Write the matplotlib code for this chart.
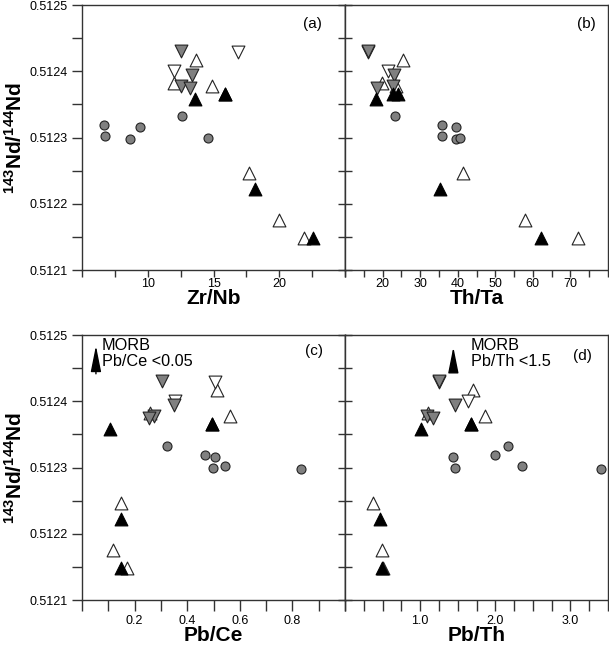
import matplotlib
matplotlib.use('Agg')
import matplotlib.pyplot as plt
from matplotlib.ticker import MultipleLocator, FixedLocator, FormatStrFormatter

plt.rcParams['font.family'] = ['Liberation Sans', 'DejaVu Sans']
plt.rcParams['mathtext.fontset'] = 'custom'
plt.rcParams['mathtext.rm'] = 'Liberation Sans'
plt.rcParams['mathtext.bf'] = 'Liberation Sans:bold'

# 143Nd/144Nd per sample group (same samples in every panel)
y_circle = [0.512319, 0.512303, 0.512297, 0.512316, 0.512333, 0.512299]
y_gray_down = [0.51243, 0.512394, 0.512377, 0.512375]
y_open_down = [0.5124, 0.512429]
y_open_up = [0.512417, 0.512383, 0.512377, 0.512247, 0.512175, 0.512149]
y_black_up = [0.512358, 0.512365, 0.512223, 0.512149, 0.512365]

# Zr/Nb
zrnb_circle = [6.70, 6.77, 8.62, 9.43, 12.6, 14.58]
zrnb_gray_down = [12.55, 13.36, 12.53, 13.24]
zrnb_open_down = [11.97, 16.86]
zrnb_open_up = [13.67, 11.97, 14.89, 17.73, 20.0, 21.9]
zrnb_black_up = [13.62, 15.85, 18.16, 22.6, 15.85]

# Th/Ta
thta_circle = [35.7, 35.7, 39.5, 39.5, 23.3, 40.7]
thta_gray_down = [16.2, 23.1, 22.8, 18.4]
thta_open_down = [21.5, 16.2]
thta_open_up = [25.4, 19.8, 23.5, 41.3, 57.9, 72.1]
thta_black_up = [18.3, 22.9, 35.3, 62.1, 24.2]

# Pb/Ce
pbce_circle = [0.469, 0.543, 0.833, 0.507, 0.323, 0.498]
pbce_gray_down = [0.304, 0.349, 0.272, 0.254]
pbce_open_down = [0.352, 0.504]
pbce_open_up = [0.513, 0.26, 0.561, 0.148, 0.118, 0.171]
pbce_black_up = [0.105, 0.494, 0.149, 0.149, 0.494]

# Pb/Th
pbth_circle = [1.996, 2.36, 3.41, 1.433, 2.17, 1.464]
pbth_gray_down = [1.255, 1.464, 1.087, 1.176]
pbth_open_down = [1.64, 1.255]
pbth_open_up = [1.70, 1.10, 1.863, 0.368, 0.488, 0.50]
pbth_black_up = [1.011, 1.673, 0.466, 0.488, 1.673]

GRAY = '#808080'
EDGE = '#222222'

fig = plt.figure(figsize=(6.09, 6.47), dpi=100)
W, H = 609.0, 647.0


def make_axes(x0, y0, x1, y1):
    return fig.add_axes([x0 / W, 1 - y1 / H, (x1 - x0) / W, (y1 - y0) / H])


ax_a = make_axes(82, 5, 345, 270)
ax_b = make_axes(345, 5, 608, 270)
ax_c = make_axes(82, 335, 345, 600)
ax_d = make_axes(345, 335, 608, 600)


def plot_points(ax, xc, xgd, xod, xou, xbu):
    ax.scatter(xou, y_open_up, marker='^', s=85, facecolor='white', edgecolor=EDGE, linewidth=0.8, zorder=3)
    ax.scatter(xod, y_open_down, marker='v', s=85, facecolor='white', edgecolor=EDGE, linewidth=0.8, zorder=3)
    ax.scatter(xgd, y_gray_down, marker='v', s=85, facecolor=GRAY, edgecolor=EDGE, linewidth=0.8, zorder=4)
    ax.scatter(xbu, y_black_up, marker='^', s=85, facecolor='black', edgecolor='black', linewidth=0.8, zorder=5)
    ax.scatter(xc, y_circle, marker='o', s=42, facecolor=GRAY, edgecolor=EDGE, linewidth=0.8, zorder=6)


plot_points(ax_a, zrnb_circle, zrnb_gray_down, zrnb_open_down, zrnb_open_up, zrnb_black_up)
plot_points(ax_b, thta_circle, thta_gray_down, thta_open_down, thta_open_up, thta_black_up)
plot_points(ax_c, pbce_circle, pbce_gray_down, pbce_open_down, pbce_open_up, pbce_black_up)
plot_points(ax_d, pbth_circle, pbth_gray_down, pbth_open_down, pbth_open_up, pbth_black_up)

ylabel = r'$\mathbf{^{143}Nd/^{144}Nd}$'

for ax in (ax_a, ax_b, ax_c, ax_d):
    ax.set_ylim(0.5121, 0.5125)
    ax.yaxis.set_major_locator(MultipleLocator(0.0001))
    ax.yaxis.set_minor_locator(MultipleLocator(0.00005))
    ax.yaxis.set_major_formatter(FormatStrFormatter('%.4f'))
    for sp in ax.spines.values():
        sp.set_linewidth(1.0)
        sp.set_color('#333333')
    ax.tick_params(axis='x', which='both', direction='out', top=False, labelsize=9,
                   color='#333333', width=1.0, length=5)
    ax.tick_params(axis='x', which='major', pad=1)

for ax in (ax_a, ax_c):
    ax.tick_params(axis='y', which='both', direction='out', right=False, length=7,
                   width=1.0, color='#333333', labelsize=9, pad=3)
    sec = ax.secondary_yaxis('right')
    sec.yaxis.set_major_locator(MultipleLocator(0.0001))
    sec.yaxis.set_minor_locator(MultipleLocator(0.00005))
    sec.tick_params(axis='y', which='both', direction='in', length=5, width=1.0,
                    color='#333333', labelright=False)
    sec.spines['right'].set_linewidth(1.0)
    sec.spines['right'].set_color('#333333')
    ax.set_ylabel(ylabel, fontsize=15, labelpad=3)

for ax in (ax_b, ax_d):
    ax.tick_params(axis='y', which='both', direction='in', left=True, right=False,
                   labelleft=False, length=5, width=1.0, color='#333333')

# panel (a) Zr/Nb
ax_a.set_xlim(5, 25)
ax_a.xaxis.set_major_locator(FixedLocator([10, 15, 20]))
ax_a.xaxis.set_minor_locator(MultipleLocator(2.5))
ax_a.set_xlabel('Zr/Nb', fontsize=15, fontweight='bold', labelpad=-1)

# panel (b) Th/Ta
ax_b.set_xlim(10, 80)
ax_b.xaxis.set_major_locator(FixedLocator([20, 30, 40, 50, 60, 70]))
ax_b.xaxis.set_minor_locator(MultipleLocator(5))
ax_b.set_xlabel('Th/Ta', fontsize=15, fontweight='bold', labelpad=-1)

# panel (c) Pb/Ce
ax_c.set_xlim(0, 1.0)
ax_c.xaxis.set_major_locator(FixedLocator([0.2, 0.4, 0.6, 0.8]))
ax_c.xaxis.set_minor_locator(MultipleLocator(0.1))
ax_c.xaxis.set_major_formatter(FormatStrFormatter('%.1f'))
ax_c.set_xlabel('Pb/Ce', fontsize=15, fontweight='bold', labelpad=-1)

# panel (d) Pb/Th
ax_d.set_xlim(0, 3.5)
ax_d.xaxis.set_major_locator(FixedLocator([1.0, 2.0, 3.0]))
ax_d.xaxis.set_minor_locator(MultipleLocator(0.25))
ax_d.xaxis.set_major_formatter(FormatStrFormatter('%.1f'))
ax_d.set_xlabel('Pb/Th', fontsize=15, fontweight='bold', labelpad=-1)

for ax in (ax_c, ax_d):
    ax.tick_params(axis='x', which='both', length=8)
    ax.tick_params(axis='x', which='major', pad=3)

# panel letters
ax_a.text(0.877, 0.93, '(a)', transform=ax_a.transAxes, fontsize=11, ha='center', va='center')
ax_b.text(0.919, 0.93, '(b)', transform=ax_b.transAxes, fontsize=11, ha='center', va='center')
ax_c.text(0.883, 0.94, '(c)', transform=ax_c.transAxes, fontsize=11, ha='center', va='center')
ax_d.text(0.902, 0.922, '(d)', transform=ax_d.transAxes, fontsize=11, ha='center', va='center')

# MORB arrows
arrow = dict(arrowstyle='-|>,head_length=1.6,head_width=0.32', color='black', lw=1.0)
ax_c.annotate('', xy=(0.053, 0.97), xytext=(0.053, 0.843), xycoords='axes fraction',
              textcoords='axes fraction', arrowprops=arrow)
ax_c.text(0.075, 0.96, 'MORB', transform=ax_c.transAxes, fontsize=11.7, ha='left', va='center')
ax_c.text(0.075, 0.90, 'Pb/Ce <0.05', transform=ax_c.transAxes, fontsize=11.7, ha='left', va='center')

ax_d.annotate('', xy=(0.412, 0.965), xytext=(0.412, 0.86), xycoords='axes fraction',
              textcoords='axes fraction', arrowprops=arrow)
ax_d.text(0.479, 0.96, 'MORB', transform=ax_d.transAxes, fontsize=11.7, ha='left', va='center')
ax_d.text(0.479, 0.90, 'Pb/Th <1.5', transform=ax_d.transAxes, fontsize=11.7, ha='left', va='center')

fig.savefig('out.png', dpi=100)
